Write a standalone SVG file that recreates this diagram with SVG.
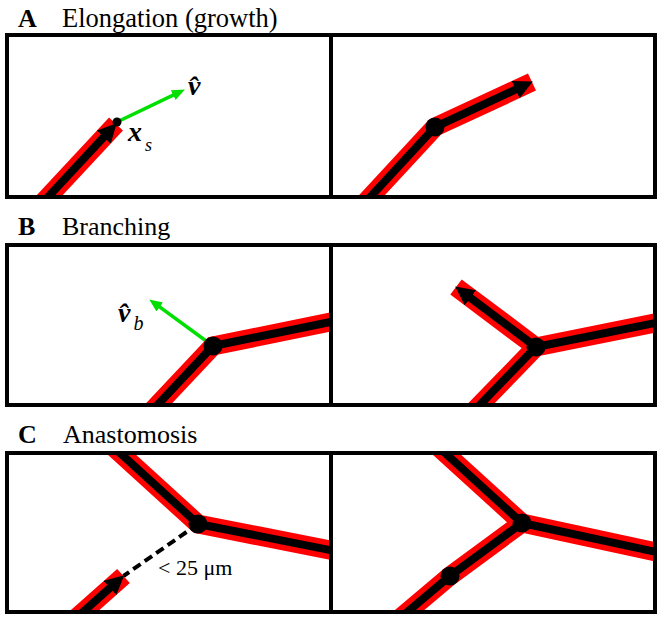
<svg xmlns="http://www.w3.org/2000/svg" width="664" height="622" viewBox="0 0 664 622">
<style>
.frame{fill:none;stroke:#000;stroke-width:4}
.red{fill:none;stroke:#ff0000;stroke-width:19;stroke-linejoin:miter;stroke-linecap:butt}
.blk{fill:none;stroke:#000;stroke-width:8;stroke-linejoin:miter;stroke-linecap:butt}
.arr{marker-end:url(#ah)}
.grn{fill:none;stroke:#00e000;stroke-width:3.5;marker-end:url(#gh)}
.dash{fill:none;stroke:#000;stroke-width:4;stroke-dasharray:9 5}
</style>
<defs>
<marker id="ah" markerUnits="userSpaceOnUse" markerWidth="20" markerHeight="20" refX="8" refY="9.5" orient="auto"><path d="M0,0 L19,9.5 L0,19 z" fill="#000"/></marker>
<marker id="gh" markerUnits="userSpaceOnUse" markerWidth="14" markerHeight="12" refX="4" refY="5.5" orient="auto"><path d="M0,0 L13,5.5 L0,11 z" fill="#00e000"/></marker>
<clipPath id="cA1"><rect x="7" y="35" width="324" height="162"/></clipPath>
<clipPath id="cA2"><rect x="331" y="35" width="324" height="162"/></clipPath>
<clipPath id="cB1"><rect x="7" y="245" width="324" height="160"/></clipPath>
<clipPath id="cB2"><rect x="331" y="245" width="324" height="160"/></clipPath>
<clipPath id="cC1"><rect x="7" y="453" width="324" height="159"/></clipPath>
<clipPath id="cC2"><rect x="331" y="453" width="324" height="159"/></clipPath>
</defs>
<rect width="664" height="622" fill="#fff"/>

<g id="titles" font-family="Liberation Serif, serif" font-size="26" fill="#000">
<text x="18" y="27" font-weight="bold">A</text>
<text x="62" y="27" font-size="26.5">Elongation (growth)</text>
<text x="18" y="235" font-weight="bold">B</text>
<text x="62" y="235">Branching</text>
<text x="18" y="443" font-weight="bold">C</text>
<text x="63" y="443">Anastomosis</text>
</g>

<g id="connectors">
<g id="A1-vessel" clip-path="url(#cA1)">
<path class="red" d="M41.2,204.3 L116,124"/>
<path class="blk arr" d="M41.2,204.3 L109.2,131.3"/>
<path class="grn" d="M117,122 L176.8,93.4"/>
<circle cx="117" cy="122" r="4.5" fill="#000"/>
</g>
<g id="A2-vessel" clip-path="url(#cA2)">
<path class="red" d="M361,207 L435,127 L532,82"/>
<path class="blk arr" d="M361,207 L435,127 L522.9,86.2"/>
<circle cx="435" cy="127" r="9.5" fill="#000"/>
</g>
<g id="B1-vessel" clip-path="url(#cB1)">
<path class="grn" d="M213,346 L156.5,304.7"/>
<path class="red" d="M148,415 L213,346 L345,319"/>
<path class="blk" d="M148,415 L213,346 L345,319"/>
<circle cx="213" cy="346" r="9.5" fill="#000"/>
</g>
<g id="B2-vessel" clip-path="url(#cB2)">
<circle cx="536" cy="347" r="10" fill="#ff0000"/>
<path class="red" d="M470,415 L536,347 L670,320 M536,347 L456,287"/>
<path class="blk" d="M470,415 L536,347 L670,320"/>
<path class="blk arr" d="M536,347 L464,293"/>
<circle cx="536" cy="347" r="9.5" fill="#000"/>
</g>
<g id="C1-vessel" clip-path="url(#cC1)">
<path class="red" d="M109,443 L198,524 L345,553"/>
<path class="blk" d="M109,443 L198,524 L345,553"/>
<path class="dash" d="M198,524 L123.5,576"/>
<path class="red" d="M75,619 L123.5,576"/>
<path class="blk arr" d="M75,619 L116,582.6"/>
<circle cx="198" cy="524" r="9.5" fill="#000"/>
</g>
<g id="C2-vessel" clip-path="url(#cC2)">
<circle cx="522" cy="523" r="10" fill="#ff0000"/>
<path class="red" d="M434,443 L522,523 L670,555 M522,523 L450,576 L399,619"/>
<path class="blk" d="M434,443 L522,523 L670,555 M522,523 L450,576 L399,619"/>
<circle cx="522" cy="523" r="9.5" fill="#000"/>
<circle cx="450" cy="576" r="9.5" fill="#000"/>
</g>
</g>

<g id="labels" font-family="Liberation Serif, serif" fill="#000">
<text x="188" y="95" font-size="28" font-weight="bold" font-style="italic">v̂</text>
<text x="128" y="141" font-size="28" font-weight="bold" font-style="italic">x<tspan font-size="18" font-weight="normal" dx="3" dy="10">s</tspan></text>
<text x="118" y="322" font-size="28" font-weight="bold" font-style="italic">v̂<tspan font-size="20" font-weight="normal" dx="3" dy="8">b</tspan></text>
<text x="158" y="575" font-size="22">&lt; 25 μm</text>
</g>

<g id="frames">
<rect id="A1" class="frame" x="7" y="35" width="324" height="162"/>
<rect id="A2" class="frame" x="331" y="35" width="324" height="162"/>
<rect id="B1" class="frame" x="7" y="245" width="324" height="160"/>
<rect id="B2" class="frame" x="331" y="245" width="324" height="160"/>
<rect id="C1" class="frame" x="7" y="453" width="324" height="159"/>
<rect id="C2" class="frame" x="331" y="453" width="324" height="159"/>
</g>
</svg>
